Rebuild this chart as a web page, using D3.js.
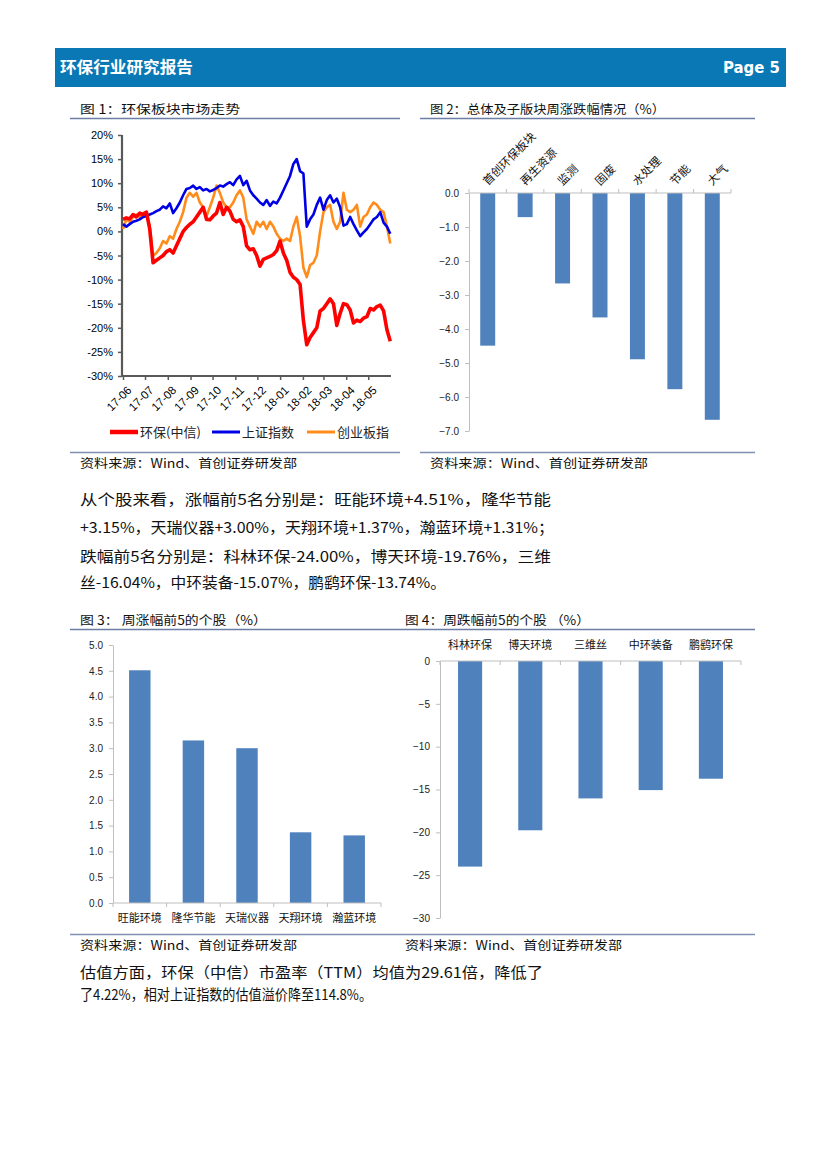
<!DOCTYPE html>
<html><head><meta charset="utf-8">
<script src="https://cdn.jsdelivr.net/npm/d3@7"></script>
<style>
body{margin:0;background:#fff}
svg{display:block}
</style></head><body>
<svg id="page" width="827" height="1169"></svg>
<script>
// ---------- DATA ----------
// Figure 1: cumulative change (%) 2017-06 .. 2018-05, evenly spaced samples
const huanbao = [2.5,2.8,2.6,3.5,3.0,3.8,3.5,4.0,0.5,-6.5,-6.0,-5.5,-5.0,-4.2,-3.8,-4.5,-3.0,-1.5,0.0,0.8,1.5,2.0,3.0,4.0,5.0,2.5,2.4,3.2,3.8,6.0,3.5,5.0,4.2,2.5,2.0,2.4,1.0,-3.0,-3.8,-3.6,-5.0,-7.2,-5.8,-5.5,-5.2,-4.8,-4.0,-2.0,-4.5,-6.0,-8.5,-9.5,-10.0,-11.0,-18.5,-23.5,-22.0,-21.0,-20.0,-16.5,-16.0,-15.0,-14.0,-15.0,-19.5,-17.0,-15.0,-15.2,-16.3,-19.0,-18.4,-18.7,-18.0,-17.7,-16.0,-16.3,-15.6,-15.3,-16.5,-20.4,-22.8];
const shangzheng = [1.5,1.0,1.5,2.0,2.2,2.5,3.0,3.2,3.5,3.8,4.2,4.5,5.2,4.8,5.8,3.8,4.8,6.0,7.5,8.8,9.0,9.5,8.8,9.2,8.5,8.8,8.3,8.6,9.0,9.5,9.3,9.8,10.2,9.6,10.8,11.5,9.6,10.5,8.5,7.5,6.8,6.0,5.5,6.5,5.3,6.2,5.8,7.0,8.5,10.0,11.5,14.0,15.0,12.5,12.0,1.0,2.5,3.5,5.5,7.0,4.5,6.5,7.5,6.0,6.8,5.0,1.2,1.5,3.0,1.5,0.2,-1.0,-0.2,0.5,1.5,2.5,3.0,4.0,1.8,1.0,-0.5];
const chuangye = [0.5,2.5,2.0,3.0,3.5,3.0,3.8,4.0,1.0,-5.0,-4.5,-3.5,-2.0,-2.5,-1.0,-1.5,0.5,2.0,4.0,7.0,8.0,7.2,8.0,6.0,5.0,3.2,5.0,7.0,9.5,8.0,6.0,5.0,5.0,6.0,7.5,8.5,7.0,2.5,1.0,-0.5,2.0,1.0,2.0,0.5,2.0,1.0,-0.5,-1.5,-2.0,-1.5,-2.0,1.0,3.0,-1.0,-7.5,-9.5,-7.0,-6.5,-5.0,0.0,4.0,5.0,5.5,2.0,0.5,2.0,8.0,4.5,4.0,4.5,5.5,1.0,3.0,3.5,5.0,6.0,5.5,4.5,4.0,1.0,-2.5];
const seriesNames = ["环保(中信)","上证指数","创业板指"];
const seriesColors = ["#ff0000","#0000e6","#ff8c1a"];
const fig1Start = "2017-06-01", fig1End = "2018-05-31";
const monthTicks = ["17-06","17-07","17-08","17-09","17-10","17-11","17-12","18-01","18-02","18-03","18-04","18-05"];
const fig1YTicks = [20,15,10,5,0,-5,-10,-15,-20,-25,-30];

// Figure 2
const fig2Cats = ["首创环保板块","再生资源","监测","固废","水处理","节能","大气"];
const fig2Vals = [-4.49,-0.71,-2.66,-3.66,-4.89,-5.77,-6.67];
const fig2YTicks = [0,-1,-2,-3,-4,-5,-6,-7];

// Figure 3
const fig3Cats = ["旺能环境","隆华节能","天瑞仪器","天翔环境","瀚蓝环境"];
const fig3Vals = [4.51,3.15,3.00,1.37,1.31];
const fig3YTicks = [0,0.5,1,1.5,2,2.5,3,3.5,4,4.5,5];

// Figure 4
const fig4Cats = ["科林环保","博天环境","三维丝","中环装备","鹏鹞环保"];
const fig4Vals = [-24.00,-19.76,-16.04,-15.07,-13.74];
const fig4YTicks = [0,-5,-10,-15,-20,-25,-30];

// ---------- DRAW ----------
const svg = d3.select("#page");
const CJK = "'Noto Sans CJK SC','Noto Sans',sans-serif";
const LAT = "'Liberation Sans',Arial,sans-serif";
const BAR = "#4f81bd";

function txt(x, y, s, o = {}) {
  const t = svg.append("text").attr("x", x).attr("y", y).text(s)
    .attr("font-family", o.ff || CJK).attr("font-size", o.fs || 13)
    .attr("fill", o.fill || "#111");
  if (o.anchor) t.attr("text-anchor", o.anchor);
  if (o.fw) t.attr("font-weight", o.fw);
  if (o.len) t.attr("textLength", o.len).attr("lengthAdjust", "spacingAndGlyphs");
  return t;
}
function hline(x1, x2, y, c, w) {
  svg.append("line").attr("x1", x1).attr("x2", x2).attr("y1", y).attr("y2", y)
    .attr("stroke", c).attr("stroke-width", w);
}

// Header
svg.append("rect").attr("x", 55).attr("y", 48).attr("width", 731).attr("height", 39).attr("fill", "#0a78b4");
txt(60, 73, "环保行业研究报告", {fs: 16, fw: "bold", fill: "#fff", len: 133});
txt(780, 73, "Page 5", {ff: "'DejaVu Sans',sans-serif", fs: 16, fw: "bold", fill: "#fff", anchor: "end", len: 57});

// Figure titles / lines / sources
const titleC = "#6b7ea3", srcC = "#7f90b2";
txt(80, 114, "图 1：环保板块市场走势", {fs: 12.5, len: 160});
txt(430, 114, "图 2：总体及子版块周涨跌幅情况（%）", {fs: 12.5, len: 235});
hline(70, 400, 118.5, titleC, 1.5);
hline(420, 755, 118.5, titleC, 1.5);
hline(70, 400, 452.5, srcC, 1.5);
hline(420, 755, 452.5, srcC, 1.5);
txt(80, 468, "资料来源：Wind、首创证券研发部", {fs: 12.5, len: 217});
txt(430, 468, "资料来源：Wind、首创证券研发部", {fs: 12.5, len: 218});

txt(80, 625, "图 3： 周涨幅前5的个股（%）", {fs: 12.5, len: 187});
txt(405, 625, "图 4：周跌幅前5的个股 （%）", {fs: 12.5, len: 185});
hline(70, 400, 629.5, titleC, 1.5);
hline(400, 755, 629.5, titleC, 1.5);
hline(70, 400, 934.5, srcC, 1.5);
hline(400, 755, 934.5, srcC, 1.5);
txt(80, 950, "资料来源：Wind、首创证券研发部", {fs: 12.5, len: 217});
txt(405, 950, "资料来源：Wind、首创证券研发部", {fs: 12.5, len: 217});

// Paragraphs
txt(80, 504.5, "从个股来看，涨幅前5名分别是：旺能环境+4.51%，隆华节能", {fs: 15, len: 471});
txt(80, 533, "+3.15%，天瑞仪器+3.00%，天翔环境+1.37%，瀚蓝环境+1.31%；", {fs: 15, len: 474});
txt(80, 561.5, "跌幅前5名分别是：科林环保-24.00%，博天环境-19.76%，三维", {fs: 15, len: 471});
txt(80, 587.5, "丝-16.04%，中环装备-15.07%，鹏鹞环保-13.74%。", {fs: 15, len: 366});
txt(80, 977.5, "估值方面，环保（中信）市盈率（TTM）均值为29.61倍，降低了", {fs: 15, len: 463});
txt(80, 1000, "了4.22%，相对上证指数的估值溢价降至114.8%。", {fs: 15, len: 292});

// ---------- Figure 1: line chart ----------
(function () {
  const parse = d3.timeParse("%Y-%m-%d");
  const t0 = parse(fig1Start), t1 = parse(fig1End);
  const x = d3.scaleTime().domain([t0, d3.timeDay.offset(t1, 1)]).range([123, 391]);
  const y = d3.scaleLinear().domain([-30, 20]).range([376, 135]);
  const n = huanbao.length;
  const dateAt = i => new Date(+t0 + (t1 - t0) * i / (n - 1));
  const g = svg.append("g");
  const tickDates = monthTicks.map(s => new Date(2000 + +s.slice(0, 2), +s.slice(3) - 1, 1));

  const ya = g.append("g").attr("transform", "translate(122,0)")
    .call(d3.axisLeft(y).tickValues(fig1YTicks).tickFormat(d => d + "%").tickSize(4).tickPadding(5));
  const xa = g.append("g").attr("transform", "translate(0,376)")
    .call(d3.axisBottom(x).tickValues(tickDates).tickFormat((d, i) => monthTicks[i]).tickSize(4).tickSizeOuter(0));
  [ya, xa].forEach(a => {
    a.select(".domain").attr("stroke", "#595959").attr("stroke-width", 2.2);
    a.selectAll(".tick line").attr("stroke", "#595959").attr("stroke-width", 1.5);
    a.selectAll("text").attr("font-family", LAT).attr("font-size", 11).attr("fill", "#000");
  });
  ya.select(".domain").attr("d", "M0,135V377");
  xa.select(".domain").attr("d", "M121,0H391");
  xa.selectAll(".tick text").attr("text-anchor", "end")
    .attr("transform", "translate(6,12) rotate(-45)").attr("dy", "0.35em").attr("y", 0).attr("x", 0)
    .attr("font-size", 11.5);

  const line = d3.line().x((d, i) => x(dateAt(i))).y(d => y(d)).curve(d3.curveLinear);
  const series = [huanbao, shangzheng, chuangye];
  const widths = [3.6, 2.6, 2.6];
  [2, 1, 0].forEach(k => {
    g.append("path").datum(series[k]).attr("d", line).attr("fill", "none")
      .attr("stroke", seriesColors[k]).attr("stroke-width", widths[k]).attr("stroke-linejoin", "round");
  });

  // legend
  const lx = [110, 212, 307];
  seriesNames.forEach((nm, k) => {
    g.append("line").attr("x1", lx[k]).attr("x2", lx[k] + 28).attr("y1", 432).attr("y2", 432)
      .attr("stroke", seriesColors[k]).attr("stroke-width", k === 0 ? 4.5 : 3);
    txt(lx[k] + 30, 437, nm, {fs: 13, fill: "#222"});
  });
})();

// ---------- Figure 2 ----------
(function () {
  const x = d3.scaleBand().domain(fig2Cats).range([469, 731]).paddingInner(0.6).paddingOuter(0.3);
  const y = d3.scaleLinear().domain([-7, 0]).range([431, 193]);
  const g = svg.append("g");
  g.selectAll("rect").data(fig2Vals).join("rect")
    .attr("x", (d, i) => x(fig2Cats[i])).attr("width", x.bandwidth())
    .attr("y", y(0)).attr("height", d => y(d) - y(0)).attr("fill", BAR);
  const ya = g.append("g").attr("transform", "translate(469,0)")
    .call(d3.axisLeft(y).tickValues(fig2YTicks).tickFormat(d3.format(".1f")).tickSize(4).tickPadding(6).tickSizeOuter(0));
  ya.select(".domain").attr("stroke", "#bfbfbf");
  ya.selectAll(".tick line").attr("stroke", "#bfbfbf");
  ya.selectAll("text").attr("font-family", LAT).attr("font-size", 10).attr("fill", "#222");
  hline(469, 731, 193, "#bfbfbf", 1);
  const step = (731 - 469) / fig2Cats.length;
  d3.range(fig2Cats.length + 1).forEach(i => {
    g.append("line").attr("x1", 469 + i * step).attr("x2", 469 + i * step).attr("y1", 193).attr("y2", 189).attr("stroke", "#bfbfbf");
  });
  fig2Cats.forEach((c, i) => {
    const cx = x(c) + x.bandwidth() / 2;
    g.append("text").text(c).attr("transform", `translate(${cx},186) rotate(-45)`)
      .attr("font-family", CJK).attr("font-size", 11.5).attr("fill", "#111");
  });
})();

// ---------- Figure 3 ----------
(function () {
  const x = d3.scaleBand().domain(fig3Cats).range([113, 381]).paddingInner(0.6).paddingOuter(0.3);
  const y = d3.scaleLinear().domain([0, 5]).range([903, 645]);
  const g = svg.append("g");
  g.selectAll("rect").data(fig3Vals).join("rect")
    .attr("x", (d, i) => x(fig3Cats[i])).attr("width", x.bandwidth())
    .attr("y", d => y(d)).attr("height", d => y(0) - y(d)).attr("fill", BAR);
  const ya = g.append("g").attr("transform", "translate(113,0)")
    .call(d3.axisLeft(y).tickValues(fig3YTicks).tickFormat(d3.format(".1f")).tickSize(4).tickPadding(6).tickSizeOuter(0));
  ya.select(".domain").attr("stroke", "#bfbfbf");
  ya.selectAll(".tick line").attr("stroke", "#bfbfbf");
  ya.selectAll("text").attr("font-family", LAT).attr("font-size", 10).attr("fill", "#222");
  hline(113, 381, 903, "#bfbfbf", 1);
  const step = (381 - 113) / fig3Cats.length;
  d3.range(fig3Cats.length + 1).forEach(i => {
    g.append("line").attr("x1", 113 + i * step).attr("x2", 113 + i * step).attr("y1", 903).attr("y2", 907).attr("stroke", "#bfbfbf");
  });
  fig3Cats.forEach(c => {
    txt(x(c) + x.bandwidth() / 2, 922, c, {fs: 11, anchor: "middle", fill: "#111"});
  });
})();

// ---------- Figure 4 ----------
(function () {
  const x = d3.scaleBand().domain(fig4Cats).range([440, 741]).paddingInner(0.6).paddingOuter(0.3);
  const y = d3.scaleLinear().domain([-30, 0]).range([918, 661]);
  const g = svg.append("g");
  g.selectAll("rect").data(fig4Vals).join("rect")
    .attr("x", (d, i) => x(fig4Cats[i])).attr("width", x.bandwidth())
    .attr("y", y(0)).attr("height", d => y(d) - y(0)).attr("fill", BAR);
  const ya = g.append("g").attr("transform", "translate(440,0)")
    .call(d3.axisLeft(y).tickValues(fig4YTicks).tickFormat(d3.format("d")).tickSize(4).tickPadding(6).tickSizeOuter(0));
  ya.select(".domain").attr("stroke", "#bfbfbf");
  ya.selectAll(".tick line").attr("stroke", "#bfbfbf");
  ya.selectAll("text").attr("font-family", LAT).attr("font-size", 10).attr("fill", "#222");
  hline(440, 741, 661, "#bfbfbf", 1);
  const step = (741 - 440) / fig4Cats.length;
  d3.range(fig4Cats.length + 1).forEach(i => {
    g.append("line").attr("x1", 440 + i * step).attr("x2", 440 + i * step).attr("y1", 661).attr("y2", 665).attr("stroke", "#bfbfbf");
  });
  fig4Cats.forEach(c => {
    txt(x(c) + x.bandwidth() / 2, 649, c, {fs: 11, anchor: "middle", fill: "#111"});
  });
})();
</script>
</body></html>
